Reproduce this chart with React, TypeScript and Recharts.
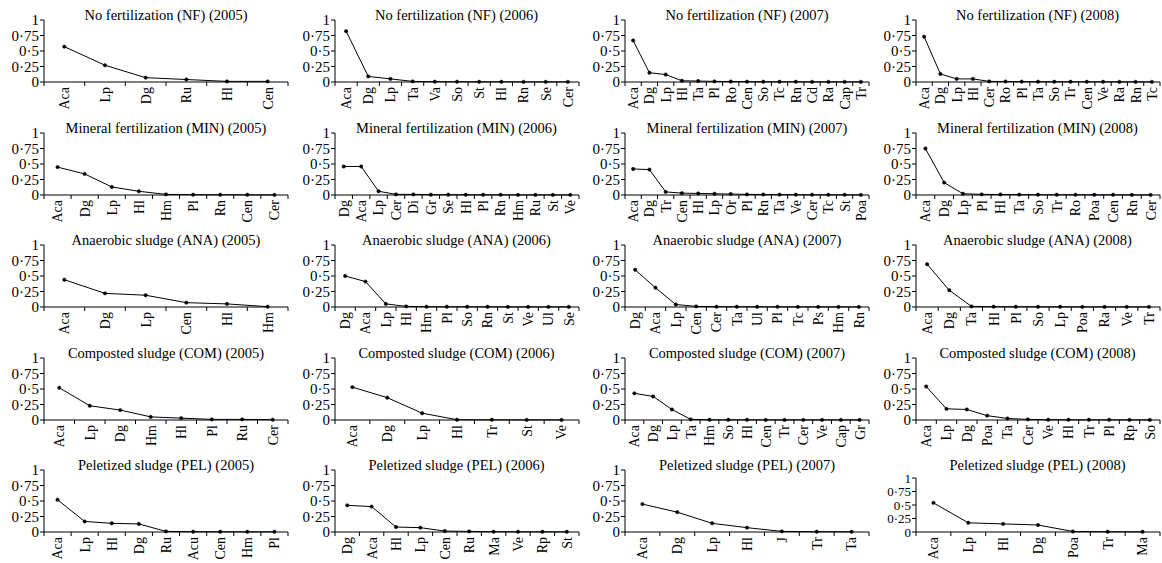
import React from "react";
import { LineChart, Line, XAxis, YAxis } from "recharts";

// Relative abundance of species, per treatment and year.
// Species are listed in the order they appear on each panel's x axis.

const nf2005Species = ["Aca", "Lp", "Dg", "Ru", "Hl", "Cen"];
const nf2005Values = [0.57, 0.27, 0.07, 0.04, 0.01, 0.01];
const nf2006Species = ["Aca", "Dg", "Lp", "Ta", "Va", "So", "St", "Hl", "Rn", "Se", "Cer"];
const nf2006Values = [0.82, 0.09, 0.05, 0.01, 0.005, 0.005, 0.003, 0.003, 0.002, 0.002, 0.002];
const nf2007Species = ["Aca", "Dg", "Lp", "Hl", "Ta", "Pl", "Ro", "Cen", "So", "Tc", "Rn", "Cd", "Ra", "Cap", "Tr"];
const nf2007Values = [0.67, 0.15, 0.12, 0.02, 0.015, 0.01, 0.008, 0.005, 0.004, 0.003, 0.003, 0.002, 0.002, 0.002, 0.002];
const nf2008Species = ["Aca", "Dg", "Lp", "Hl", "Cer", "Ro", "Pl", "Ta", "So", "Tr", "Cen", "Ve", "Ra", "Rn", "Tc"];
const nf2008Values = [0.73, 0.13, 0.05, 0.05, 0.01, 0.008, 0.006, 0.005, 0.004, 0.004, 0.003, 0.003, 0.002, 0.002, 0.002];

const min2005Species = ["Aca", "Dg", "Lp", "Hl", "Hm", "Pl", "Rn", "Cen", "Cer"];
const min2005Values = [0.45, 0.34, 0.13, 0.06, 0.01, 0.005, 0.004, 0.003, 0.002];
const min2006Species = ["Dg", "Aca", "Lp", "Cer", "Di", "Gr", "Se", "Hl", "Pl", "Rn", "Hm", "Ru", "St", "Ve"];
const min2006Values = [0.46, 0.46, 0.06, 0.01, 0.01, 0.005, 0.005, 0.004, 0.003, 0.003, 0.002, 0.002, 0.002, 0.002];
const min2007Species = ["Aca", "Dg", "Tr", "Cen", "Hl", "Lp", "Or", "Pl", "Rn", "Ta", "Ve", "Cer", "Tc", "St", "Poa"];
const min2007Values = [0.42, 0.41, 0.05, 0.03, 0.025, 0.02, 0.015, 0.01, 0.008, 0.006, 0.005, 0.004, 0.003, 0.003, 0.002];
const min2008Species = ["Aca", "Dg", "Lp", "Pl", "Hl", "Ta", "So", "Tr", "Ro", "Poa", "Cen", "Rn", "Cer"];
const min2008Values = [0.75, 0.2, 0.02, 0.01, 0.008, 0.006, 0.005, 0.004, 0.004, 0.003, 0.003, 0.002, 0.002];

const ana2005Species = ["Aca", "Dg", "Lp", "Cen", "Hl", "Hm"];
const ana2005Values = [0.44, 0.22, 0.19, 0.07, 0.05, 0.005];
const ana2006Species = ["Dg", "Aca", "Lp", "Hl", "Hm", "Pl", "So", "Rn", "St", "Ve", "Ul", "Se"];
const ana2006Values = [0.5, 0.41, 0.05, 0.01, 0.005, 0.004, 0.003, 0.003, 0.002, 0.002, 0.002, 0.002];
const ana2007Species = ["Dg", "Aca", "Lp", "Cen", "Cer", "Ta", "Ul", "Pl", "Tc", "Ps", "Hm", "Rn"];
const ana2007Values = [0.6, 0.31, 0.04, 0.01, 0.005, 0.004, 0.003, 0.003, 0.002, 0.002, 0.002, 0.002];
const ana2008Species = ["Aca", "Dg", "Ta", "Hl", "Pl", "So", "Lp", "Poa", "Ra", "Ve", "Tr"];
const ana2008Values = [0.69, 0.27, 0.01, 0.005, 0.004, 0.003, 0.003, 0.002, 0.002, 0.002, 0.002];

const com2005Species = ["Aca", "Lp", "Dg", "Hm", "Hl", "Pl", "Ru", "Cer"];
const com2005Values = [0.52, 0.23, 0.16, 0.05, 0.03, 0.01, 0.01, 0.005];
const com2006Species = ["Aca", "Dg", "Lp", "Hl", "Tr", "St", "Ve"];
const com2006Values = [0.53, 0.36, 0.11, 0.005, 0.003, 0.002, 0.002];
const com2007Species = ["Aca", "Dg", "Lp", "Ta", "Hm", "So", "Hl", "Cen", "Tr", "Cer", "Ve", "Cap", "Gr"];
const com2007Values = [0.43, 0.38, 0.17, 0.01, 0.004, 0.003, 0.003, 0.002, 0.002, 0.002, 0.002, 0.002, 0.002];
const com2008Species = ["Aca", "Lp", "Dg", "Poa", "Ta", "Cer", "Ve", "Hl", "Tr", "Pl", "Rp", "So"];
const com2008Values = [0.54, 0.18, 0.17, 0.07, 0.025, 0.01, 0.005, 0.004, 0.003, 0.003, 0.002, 0.002];

const pel2005Species = ["Aca", "Lp", "Hl", "Dg", "Ru", "Acu", "Cen", "Hm", "Pl"];
const pel2005Values = [0.52, 0.17, 0.14, 0.13, 0.01, 0.005, 0.004, 0.003, 0.003];
const pel2006Species = ["Dg", "Aca", "Hl", "Lp", "Cen", "Ru", "Ma", "Ve", "Rp", "St"];
const pel2006Values = [0.43, 0.41, 0.08, 0.07, 0.015, 0.01, 0.005, 0.004, 0.003, 0.003];
const pel2007Species = ["Aca", "Dg", "Lp", "Hl", "J", "Tr", "Ta"];
const pel2007Values = [0.45, 0.32, 0.14, 0.07, 0.01, 0.005, 0.004];
const pel2008Species = ["Aca", "Lp", "Hl", "Dg", "Poa", "Tr", "Ma"];
const pel2008Values = [0.54, 0.17, 0.15, 0.13, 0.01, 0.005, 0.004];

const yTicks = [0, 0.25, 0.5, 0.75, 1];

const panels = [
  { title: "No fertilization (NF) (2005)", species: nf2005Species, values: nf2005Values },
  { title: "No fertilization (NF) (2006)", species: nf2006Species, values: nf2006Values },
  { title: "No fertilization (NF) (2007)", species: nf2007Species, values: nf2007Values },
  { title: "No fertilization (NF) (2008)", species: nf2008Species, values: nf2008Values },
  { title: "Mineral fertilization (MIN) (2005)", species: min2005Species, values: min2005Values },
  { title: "Mineral fertilization (MIN) (2006)", species: min2006Species, values: min2006Values },
  { title: "Mineral fertilization (MIN) (2007)", species: min2007Species, values: min2007Values },
  { title: "Mineral fertilization (MIN) (2008)", species: min2008Species, values: min2008Values },
  { title: "Anaerobic sludge (ANA) (2005)", species: ana2005Species, values: ana2005Values },
  { title: "Anaerobic sludge (ANA) (2006)", species: ana2006Species, values: ana2006Values },
  { title: "Anaerobic sludge (ANA) (2007)", species: ana2007Species, values: ana2007Values },
  { title: "Anaerobic sludge (ANA) (2008)", species: ana2008Species, values: ana2008Values },
  { title: "Composted sludge (COM) (2005)", species: com2005Species, values: com2005Values },
  { title: "Composted sludge (COM) (2006)", species: com2006Species, values: com2006Values },
  { title: "Composted sludge (COM) (2007)", species: com2007Species, values: com2007Values },
  { title: "Composted sludge (COM) (2008)", species: com2008Species, values: com2008Values },
  { title: "Peletized sludge (PEL) (2005)", species: pel2005Species, values: pel2005Values },
  { title: "Peletized sludge (PEL) (2006)", species: pel2006Species, values: pel2006Values },
  { title: "Peletized sludge (PEL) (2007)", species: pel2007Species, values: pel2007Values },
  { title: "Peletized sludge (PEL) (2008)", species: pel2008Species, values: pel2008Values, small: true },
];

const FONT = "'Liberation Serif', 'Times New Roman', serif";
const COL_W = 290.5;
const ROW_H = 112.6;
const W = 290;
const H = 113;
const Y_AXIS_W = 44;
const RIGHT = 2;
const AXIS_Y = 82;
const PLOT_W = W - Y_AXIS_W - RIGHT;

function fmtY(v: number) {
  return String(v).replace(".", "·");
}

function SpeciesTick(props: any) {
  const { x, payload, names, n } = props;
  const band = PLOT_W / n;
  const i = payload.value;
  return (
    <g>
      <line x1={x - band / 2} x2={x - band / 2} y1={AXIS_Y} y2={AXIS_Y + 4} stroke="#000" />
      {i === n - 1 ? (
        <line x1={x + band / 2} x2={x + band / 2} y1={AXIS_Y} y2={AXIS_Y + 4} stroke="#000" />
      ) : null}
      <text
        transform={`translate(${x},${AXIS_Y + 5}) rotate(-90)`}
        textAnchor="end"
        dy="0.35em"
        fontSize={14}
        fontFamily={FONT}
        fill="#000"
      >
        {names[i]}
      </text>
    </g>
  );
}

function Panel({ p, row, col }: { p: any; row: number; col: number }) {
  const n = p.species.length;
  const data = p.values.map((v: number, i: number) => ({ i, v }));
  const idx = p.species.map((_: string, i: number) => i);
  const top = p.small ? 28 : 20;
  return (
    <div
      style={{
        position: "absolute",
        left: col * COL_W,
        top: row * ROW_H,
        width: W,
        height: H,
      }}
    >
      <div
        style={{
          position: "absolute",
          left: Y_AXIS_W,
          top: 5,
          width: PLOT_W,
          textAlign: "center",
          fontFamily: FONT,
          fontSize: 14.5,
          lineHeight: "20px",
          whiteSpace: "nowrap",
        }}
      >
        {p.title}
      </div>
      <LineChart
        width={W}
        height={H}
        data={data}
        margin={{ top, right: RIGHT, bottom: 0, left: 0 }}
      >
        <XAxis
          dataKey="i"
          type="number"
          domain={[-0.5, n - 0.5]}
          ticks={idx}
          interval={0}
          height={H - AXIS_Y}
          axisLine={{ stroke: "#000" }}
          tickLine={false}
          tick={(tp: any) => <SpeciesTick {...tp} names={p.species} n={n} />}
        />
        <YAxis
          type="number"
          domain={[0, 1]}
          ticks={yTicks}
          interval={0}
          width={Y_AXIS_W}
          tickFormatter={fmtY}
          axisLine={{ stroke: "#000" }}
          tickLine={{ stroke: "#000" }}
          tickSize={4}
          tickMargin={1}
          tick={{ fill: "#000", fontSize: p.small ? 13 : 15, fontFamily: FONT }}
        />
        <Line
          type="linear"
          dataKey="v"
          stroke="#000"
          strokeWidth={1}
          dot={{ r: 1.7, fill: "#000", stroke: "#000", strokeWidth: 0.5 }}
          isAnimationActive={false}
        />
      </LineChart>
    </div>
  );
}

export default function App() {
  return (
    <div
      style={{
        position: "relative",
        width: 1162,
        height: 563,
        background: "#fff",
        overflow: "hidden",
      }}
    >
      <style>{`body{margin:0}`}</style>
      {panels.map((p, k) => (
        <Panel key={p.title} p={p} row={Math.floor(k / 4)} col={k % 4} />
      ))}
    </div>
  );
}
